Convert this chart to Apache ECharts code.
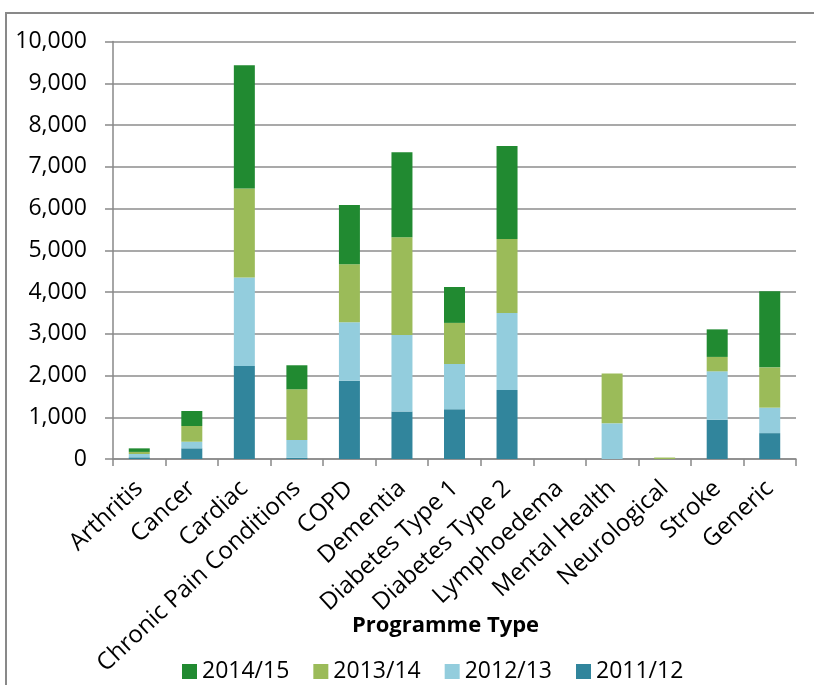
<!DOCTYPE html>
<html>
<head>
<meta charset="utf-8">
<script src="https://cdn.jsdelivr.net/npm/echarts@6/dist/echarts.min.js"></script>
<style>html,body{margin:0;padding:0;background:#fff;}#c{width:814px;height:685px;}</style>
</head>
<body>
<div id="c"></div>
<script>
const categories = ["Arthritis","Cancer","Cardiac","Chronic Pain Conditions","COPD","Dementia","Diabetes Type 1","Diabetes Type 2","Lymphoedema","Mental Health","Neurological","Stroke","Generic"];
const y2011 = [40, 256, 2230, 30, 1875, 1140, 1190, 1650, 0, 0, 0, 940, 620];
const y2012 = [80, 158, 2120, 425, 1400, 1830, 1085, 1850, 0, 855, 0, 1160, 610];
const y2013 = [50, 376, 2130, 1215, 1390, 2340, 985, 1770, 0, 1195, 35, 345, 965];
const y2014 = [85, 360, 2950, 575, 1420, 2035, 860, 2230, 0, 0, 0, 660, 1820];
const yTicks = [0, 1000, 2000, 3000, 4000, 5000, 6000, 7000, 8000, 9000, 10000];

const FONT = 'Open Sans';
const chart = echarts.init(document.getElementById('c'), null, {renderer: 'canvas'});
function mk(name, data, color) {
  return {name: name, type: 'bar', stack: 'total', data: data, barWidth: 21,
    itemStyle: {color: color}, emphasis: {disabled: true}};
}
chart.setOption({
  animation: false,
  textStyle: {fontFamily: FONT, color: '#000'},
  graphic: [{type: 'rect', shape: {x: 6, y: 13, width: 900, height: 800},
    style: {fill: 'none', stroke: '#898989', lineWidth: 2}, silent: true}],
  grid: {left: 113, right: 18, top: 41.5, bottom: 226, containLabel: false},
  legend: {
    data: ['2014/15', '2013/14', '2012/13', '2011/12'],
    top: 655, left: 177, itemWidth: 15, itemHeight: 15, itemGap: 24,
    icon: 'rect',
    textStyle: {fontFamily: FONT, fontSize: 23, color: '#000'}
  },
  xAxis: {
    type: 'category', data: categories,
    name: 'Programme Type', nameLocation: 'middle', nameGap: 156, nameMoveOverlap: false,
    nameTextStyle: {fontFamily: FONT, fontSize: 22, fontWeight: 'bold', color: '#000', padding: [0, 18, 0, 0]},
    axisLine: {lineStyle: {color: '#898989', width: 1.5}},
    axisTick: {show: true, alignWithLabel: false, length: 7, lineStyle: {color: '#898989', width: 1.5}},
    axisLabel: {rotate: 43, interval: 0, margin: 26, padding: [15, 0, 0, 0], fontFamily: FONT, fontSize: 24, color: '#000'}
  },
  yAxis: {
    type: 'value', min: yTicks[0], max: yTicks[yTicks.length - 1], interval: 1000,
    axisLine: {show: true, lineStyle: {color: '#898989', width: 1.5}},
    axisTick: {show: true, length: 8, lineStyle: {color: '#898989', width: 1.5}},
    splitLine: {lineStyle: {color: '#8c8c8c', width: 1.5}},
    axisLabel: {margin: 26, fontFamily: FONT, fontSize: 23, color: '#000',
      formatter: v => v.toLocaleString('en-US')}
  },
  series: [
    mk('2011/12', y2011, '#31859C'),
    mk('2012/13', y2012, '#93CDDD'),
    mk('2013/14', y2013, '#9BBB59'),
    mk('2014/15', y2014, '#218A31')
  ]
});
</script>
</body>
</html>
